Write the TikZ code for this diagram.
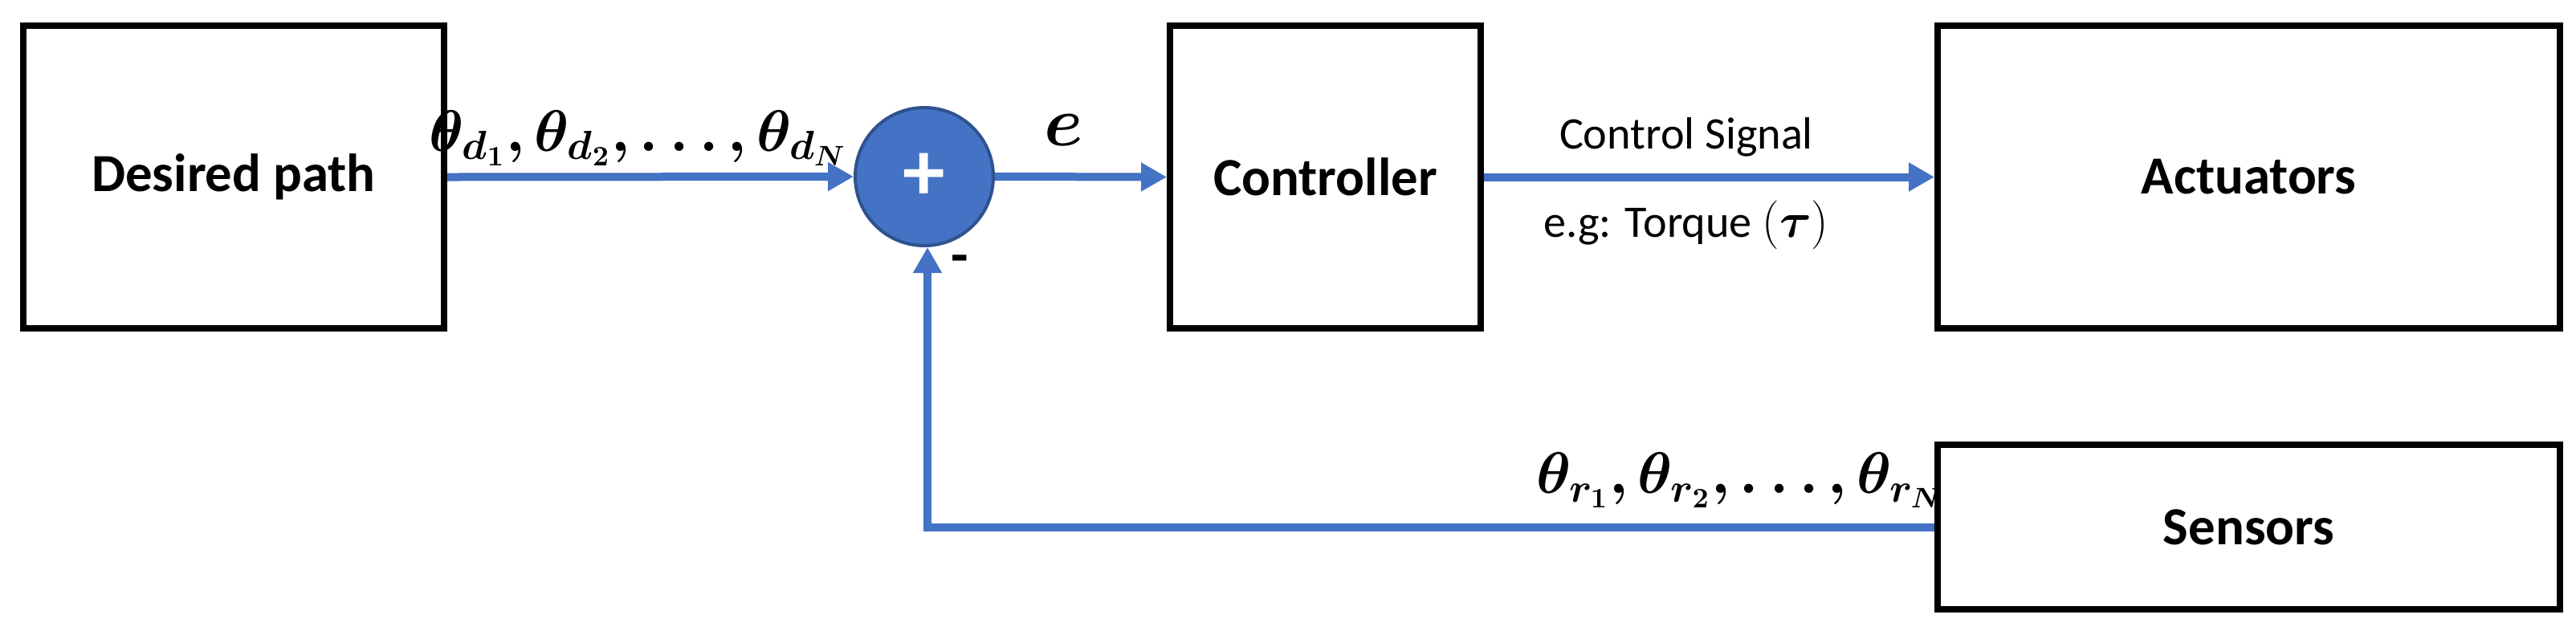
\documentclass[tikz,border=0pt]{standalone}
\usepackage{fontspec}
\usepackage{amsmath,bm}
\setmainfont{Carlito}
\usetikzlibrary{arrows.meta}
\definecolor{blu}{HTML}{4472C4}
\definecolor{dblu}{HTML}{2F528F}
\begin{document}
\begin{tikzpicture}[x=1cm,y=-1cm,
  box/.style={draw=black,line width=0.08cm,inner sep=0},
  btxt/.style={font=\fontsize{19}{22}\selectfont\bfseries},
  sig/.style={draw=blu,line width=0.1cm,-{Triangle[width=0.34cm,length=0.32cm]}},
  lbl/.style={font=\fontsize{16}{19}\selectfont}]
\useasboundingbox (0,0) rectangle (32.08,7.9);
\node[box,minimum width=5.24cm,minimum height=3.77cm] (dp) at (2.91,2.205) {};
\node[btxt] at (dp) {Desired path};
\node[circle,fill=blu,draw=dblu,line width=0.04cm,minimum size=1.72cm,inner sep=0] (sum) at (11.51,2.2) {};
\node[font=\fontsize{30}{30}\selectfont\bfseries,text=white] at (sum) {+};
\node[box,minimum width=3.87cm,minimum height=3.77cm] (ct) at (16.505,2.205) {};
\node[btxt] at (ct) {Controller};
\node[box,minimum width=7.75cm,minimum height=3.77cm] (ac) at (28.005,2.205) {};
\node[btxt] at (ac) {Actuators};
\node[box,minimum width=7.75cm,minimum height=2.05cm] (se) at (28.005,6.565) {};
\node[btxt] at (se) {Sensors};
\coordinate (fb) at (11.55,6.57);
\draw[sig] (dp.east) -- (sum.west);
\draw[sig] (sum.east) -- (ct.west);
\draw[sig] (ct.east) -- (ac.west);
\draw[sig] (se.west |- fb) -- (fb) -- (sum.south -| fb);
\node[font=\fontsize{20}{24}\selectfont] at (7.95,1.72) {$\bm{\theta_{d_1},\theta_{d_2},\ldots,\theta_{d_N}}$};
\node[font=\fontsize{30}{30}\selectfont] at (13.25,1.62) {$\bm{e}$};
\node[font=\fontsize{20}{20}\selectfont\bfseries] at (11.95,3.3) {-};
\node[lbl] at (21.0,1.71) {Control Signal};
\node[lbl] at (21.0,2.8) {e.g: Torque $(\bm{\tau})$};
\node[font=\fontsize{20}{24}\selectfont] at (21.67,5.98) {$\bm{\theta_{r_1},\theta_{r_2},\ldots,\theta_{r_N}}$};
\end{tikzpicture}
\end{document}
